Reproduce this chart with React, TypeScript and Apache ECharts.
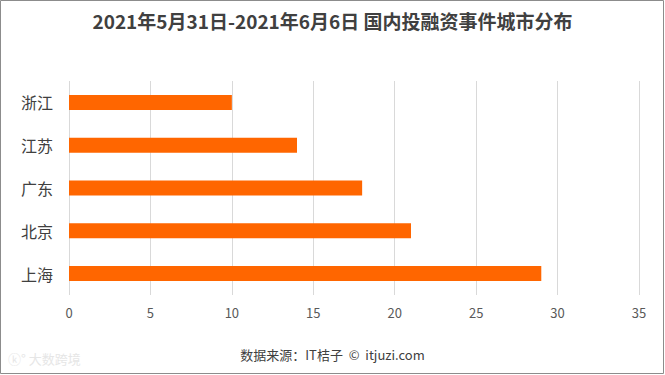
import React, { useEffect, useRef } from "react";
import * as echarts from "echarts";

const categories = ["浙江", "江苏", "广东", "北京", "上海"];
const values = [10, 14, 18, 21, 29];
const titleText = "2021年5月31日-2021年6月6日 国内投融资事件城市分布";
const sourceText = "数据来源：IT桔子  ©  itjuzi.com";

const FONT = "'Noto Sans CJK SC', 'Noto Sans', sans-serif";

export default function App() {
  const ref = useRef<HTMLDivElement>(null);
  useEffect(() => {
    document.body.style.margin = "0";
    const chart = echarts.init(ref.current!, null, { renderer: "svg" });
    chart.setOption({
      animation: false,
      backgroundColor: "#ffffff",
      textStyle: { fontFamily: FONT },
      title: {
        text: titleText,
        left: "center",
        top: 6,
        textStyle: { fontSize: 19, fontWeight: "bold", color: "#404040", fontFamily: FONT },
      },
      grid: { left: 69, right: 26, top: 81, bottom: 80, containLabel: false },
      xAxis: {
        type: "value",
        min: 0,
        max: 35,
        interval: 5,
        axisLine: { show: false },
        axisTick: { show: false },
        axisLabel: { fontSize: 13, color: "#595959", margin: 11, fontFamily: FONT },
        splitLine: { show: true, lineStyle: { color: "#d9d9d9", width: 1 } },
      },
      yAxis: {
        type: "category",
        data: categories,
        inverse: true,
        axisLine: { show: false },
        axisTick: { show: false },
        splitLine: { show: false },
        axisLabel: { fontSize: 16, color: "#404040", margin: 16, fontFamily: FONT },
      },
      series: [
        {
          type: "bar",
          data: values,
          barWidth: 15,
          itemStyle: { color: "#ff6600" },
        },
      ],
      graphic: [
        {
          type: "rect",
          shape: { x: 0.5, y: 0.5, width: 663, height: 373 },
          style: { fill: "none", stroke: "#8c8c8c", lineWidth: 1 },
          silent: true,
        },
        {
          type: "text",
          left: "center",
          top: 348,
          style: { text: sourceText, fontSize: 13, fill: "#404040", fontFamily: FONT },
        },
        {
          type: "text",
          left: 8,
          top: 352,
          style: { text: "ⓚ° 大数跨境", fontSize: 13, fill: "#e6e6e6", fontFamily: FONT },
        },
      ],
    });
    return () => chart.dispose();
  }, []);
  return <div ref={ref} style={{ width: 665, height: 375 }} />;
}
